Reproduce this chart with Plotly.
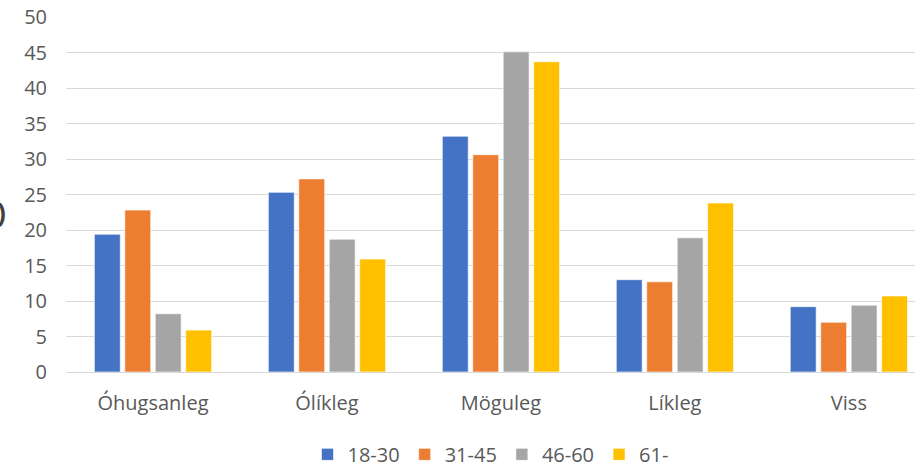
import plotly.graph_objects as go

CATEGORIES = ['Óhugsanleg', 'Ólíkleg', 'Möguleg', 'Líkleg', 'Viss']
GROUPS = ['18-30', '31-45', '46-60', '61-']
VALUES_18_30 = [19.4, 25.3, 33.2, 13.0, 9.2]
VALUES_31_45 = [22.8, 27.2, 30.6, 12.7, 7.0]
VALUES_46_60 = [8.2, 18.7, 45.1, 18.9, 9.4]
VALUES_61 = [5.9, 15.9, 43.7, 23.8, 10.7]
COLORS = ['#4472C4', '#ED7D31', '#A5A5A5', '#FFC000']

FONT = 'Open Sans'

fig = go.Figure()
for name, vals, color in zip(GROUPS, [VALUES_18_30, VALUES_31_45, VALUES_46_60, VALUES_61], COLORS):
    fig.add_trace(go.Bar(
        x=CATEGORIES,
        y=vals,
        name=name,
        marker=dict(color=color, line=dict(color='rgba(255,255,255,0.6)', width=1)),
    ))

fig.update_layout(
    width=915,
    height=468,
    barmode='group',
    bargap=0.30,
    bargroupgap=0.15,
    plot_bgcolor='white',
    paper_bgcolor='white',
    font=dict(family=FONT, size=20, color='#595959'),
    margin=dict(l=66, r=0, t=17, b=96, autoexpand=False),
    showlegend=True,
    legend=dict(
        orientation='h',
        xanchor='center',
        x=0.5,
        yanchor='middle',
        y=-0.232,
        font=dict(size=20, color='#595959'),
        itemwidth=30,
        traceorder='normal',
    ),
    # clipped axis title remnant at the left edge
    annotations=[dict(
        text='<b>)</b>',
        xref='paper', yref='paper',
        x=-0.0835, y=0.45,
        xanchor='left', yanchor='middle',
        showarrow=False,
        font=dict(size=26, color='#404040', family=FONT),
    )],
)

fig.update_xaxes(
    range=[-0.5, 4.38],
    showgrid=False,
    showline=False,
    ticks='',
    ticklabelstandoff=17,
    tickfont=dict(size=20, color='#595959'),
)
fig.update_yaxes(
    range=[0, 50],
    dtick=5,
    showgrid=True,
    gridcolor='#D9D9D9',
    gridwidth=1,
    zeroline=True,
    zerolinecolor='#D9D9D9',
    zerolinewidth=1,
    ticks='',
    ticklabelstandoff=18,
    tickfont=dict(size=20, color='#595959'),
)

fig.write_html('out.html', config={'displayModeBar': False},
               post_script="document.body.style.margin='0';")
